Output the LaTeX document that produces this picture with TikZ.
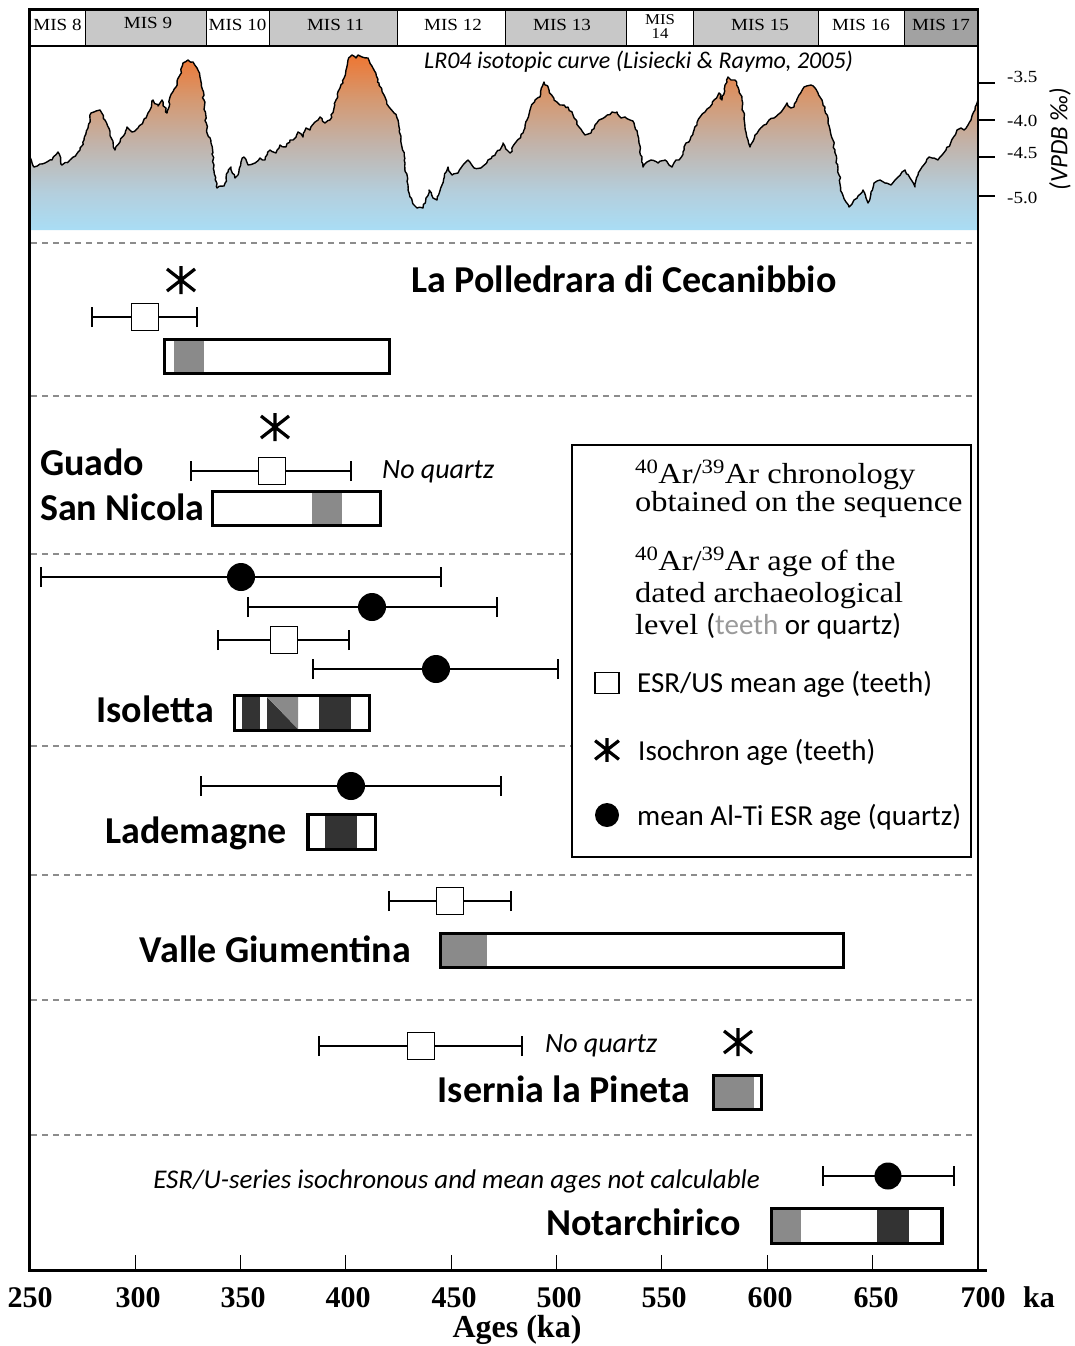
\documentclass[tikz,border=0pt]{standalone}
\usepackage{fontspec}
\setsansfont{Carlito}
\newfontfamily\axisfont{Liberation Serif}
\newfontfamily\palfont{Liberation Serif}[FakeStretch=1.12]
\usetikzlibrary{shapes.geometric,decorations.pathmorphing}
\definecolor{midgray}{HTML}{8A8A8A}
\definecolor{darkfill}{HTML}{333333}
\definecolor{misgray}{HTML}{C8C8C8}
\definecolor{misdark}{HTML}{A2A2A2}
\definecolor{sepgray}{HTML}{8C8C8C}
\definecolor{teethgray}{HTML}{9A9A9A}
\definecolor{lblue}{HTML}{A9DDF5}
\definecolor{bluegray}{HTML}{B4CEDC}
\definecolor{tanmid}{HTML}{C2B2A8}
\definecolor{tanor}{HTML}{D6976E}
\definecolor{orng}{HTML}{EE7632}
\pgfdeclareverticalshading{lrfour}{100bp}{color(0bp)=(lblue); color(25bp)=(lblue); color(36bp)=(bluegray); color(50bp)=(tanmid); color(63bp)=(tanor); color(75bp)=(orng); color(100bp)=(orng)}
\newcommand\sitefont{\fontsize{38}{40}\selectfont\bfseries\sffamily}
\newcommand\lrpts{(30,157) -- (34,167) -- (40,164) -- (45,163) -- (52,160) -- (58,152) -- (62,165) -- (70,160) -- (76,155) -- (80,150) -- (84,140) -- (88,128) -- (91,113) -- (96,111) -- (100,110) -- (105,120) -- (110,133) -- (115,150) -- (120,142) -- (127,127) -- (132,132) -- (138,128) -- (143,122) -- (148,113) -- (153,100) -- (158,106) -- (162,100) -- (167,113) -- (170,97) -- (176,87) -- (180,75) -- (183,63) -- (188,60) -- (193,62) -- (197,68) -- (200,77) -- (204,100) -- (207,133) -- (211,143) -- (214,165) -- (217,188) -- (224,186) -- (228,172) -- (231,167) -- (235,178) -- (238,175) -- (241,162) -- (244,157) -- (248,165) -- (255,163) -- (260,158) -- (265,160) -- (270,150) -- (276,153) -- (280,145) -- (286,147) -- (290,140) -- (293,140) -- (298,132) -- (303,137) -- (306,128) -- (310,130) -- (315,122) -- (320,117) -- (325,123) -- (330,120) -- (336,100) -- (340,88) -- (343,83) -- (346,70) -- (348,60) -- (352,55) -- (356,58) -- (358,55) -- (362,57) -- (368,58) -- (374,70) -- (379,83) -- (384,95) -- (389,107) -- (394,113) -- (398,120) -- (401,137) -- (405,163) -- (408,185) -- (410,197) -- (414,205) -- (417,208) -- (423,208) -- (426,198) -- (429,190) -- (433,198) -- (437,200) -- (442,185) -- (448,167) -- (452,175) -- (458,173) -- (463,165) -- (468,160) -- (474,168) -- (482,167) -- (488,160) -- (496,153) -- (500,150) -- (503,143) -- (507,150) -- (510,153) -- (516,142) -- (523,133) -- (527,120) -- (530,110) -- (535,100) -- (540,97) -- (544,82) -- (549,90) -- (554,100) -- (560,105) -- (568,107) -- (573,115) -- (579,127) -- (585,135) -- (591,133) -- (595,125) -- (599,120) -- (605,117) -- (612,112) -- (617,112) -- (621,118) -- (625,117) -- (630,120) -- (634,123) -- (639,143) -- (643,167) -- (647,162) -- (651,160) -- (658,163) -- (665,160) -- (669,165) -- (672,167) -- (676,160) -- (679,160) -- (683,152) -- (686,143) -- (690,140) -- (693,133) -- (697,125) -- (700,117) -- (705,112) -- (710,107) -- (714,100) -- (719,93) -- (722,100) -- (725,85) -- (728,77) -- (731,80) -- (735,80) -- (739,90) -- (742,100) -- (745,127) -- (748,140) -- (750,147) -- (755,135) -- (759,130) -- (764,125) -- (769,120) -- (774,118) -- (780,113) -- (784,108) -- (787,103) -- (791,108) -- (794,107) -- (799,95) -- (804,87) -- (811,85) -- (815,88) -- (818,93) -- (822,100) -- (825,107) -- (828,123) -- (832,138) -- (835,150) -- (839,175) -- (842,193) -- (846,202) -- (849,207) -- (852,204) -- (854,200) -- (858,196) -- (863,190) -- (866,198) -- (868,203) -- (871,192) -- (874,183) -- (877,181) -- (880,180) -- (885,183) -- (891,185) -- (895,180) -- (898,177) -- (902,172) -- (905,170) -- (910,178) -- (915,187) -- (918,175) -- (922,167) -- (926,162) -- (929,157) -- (934,158) -- (938,160) -- (942,155) -- (946,150) -- (951,142) -- (957,130) -- (961,128) -- (964,130) -- (968,125) -- (971,120) -- (975,110) -- (978,100)}
\newcommand\errbar[4]{%
  \coordinate (#1-l) at (#2,#4);
  \coordinate (#1-r) at (#3,#4);
  \draw[errline] (#1-l) -- (#1-r);
  \draw[errline] ([yshift=-10pt]#1-l) -- ([yshift=10pt]#1-l);
  \draw[errline] ([yshift=-10pt]#1-r) -- ([yshift=10pt]#1-r);
}
\begin{document}
\begin{tikzpicture}[x=1pt,y=-1pt,
  errline/.style={line width=1.2pt},
  sqmark/.style={draw, fill=white, line width=1.5pt, minimum width=27pt, minimum height=27pt, inner sep=0pt},
  dotmark/.style={circle, fill=black, minimum size=28pt, inner sep=0pt},
  agebox/.style={draw, line width=3.2pt},
  sepline/.style={draw=sepgray, line width=1.2pt, dash pattern=on 6pt off 5pt},
  sitename/.style={font=\sitefont, inner sep=0pt},
  noteit/.style={font=\fontsize{28}{30}\selectfont\itshape\sffamily, inner sep=0pt},
  legserif/.style={font=\fontsize{29}{30}\selectfont\palfont, inner sep=0pt, anchor=base west},
  legsans/.style={font=\fontsize{29}{31}\selectfont\sffamily, inner sep=0pt, anchor=base west},
  mislabel/.style={font=\fontsize{17}{18}\selectfont\palfont, inner sep=0pt, anchor=base},
  axnum/.style={font=\fontsize{30}{32}\selectfont\axisfont\bfseries, inner sep=0pt, anchor=base},
  ylab/.style={font=\fontsize{17}{20}\selectfont\palfont, inner sep=0pt, anchor=west},
  jitter/.style={decoration={random steps, segment length=3pt, amplitude=1.1pt}},
  ast/.pic={\draw[line width=3.2pt] (0,-14) -- (0,14) (-14,-11) -- (14,11) (-14,11) -- (14,-11);}
]
\useasboundingbox (0,0) rectangle (1074,1346);
\fill[white] (0,0) rectangle (1074,1346);

% isotopic curve
\begin{scope}
\pgfmathsetseed{11}
\clip decorate[jitter]{\lrpts} -- (978,230) -- (30,230) -- cycle;
\shade[shading=lrfour] (30,55) rectangle (978,230);
\end{scope}
\pgfmathsetseed{11}
\draw[line width=1.4pt, line join=round] decorate[jitter]{\lrpts};
\node[font=\fontsize{24}{26}\selectfont\itshape\sffamily, inner sep=0pt, anchor=base west] (lr04) at (424,68) {LR04 isotopic curve (Lisiecki \& Raymo, 2005)};

% MIS band
\fill[misgray] (85.5,10) rectangle (206,46);
\fill[misgray] (269,10) rectangle (397.5,46);
\fill[misgray] (505,10) rectangle (626.5,46);
\fill[misgray] (693,10) rectangle (818.5,46);
\fill[misdark] (904,10) rectangle (978,46);
\foreach \bx in {85.5,206,269,397.5,505,626.5,693,818.5,904}{\draw[line width=1pt] (\bx,10) -- (\bx,46);}
\draw[line width=1.5pt] (29.5,46) -- (978,46);
\node[mislabel] (mis8) at (57.5,31) {MIS 8};
\node[mislabel] (mis9) at (148,29) {MIS 9};
\node[mislabel] (mis10) at (237.5,31) {MIS 10};
\node[mislabel] (mis11) at (335.5,31) {MIS 11};
\node[mislabel] (mis12) at (453,31) {MIS 12};
\node[mislabel] (mis13) at (562,31) {MIS 13};
\node[font=\fontsize{15}{15}\selectfont\palfont, inner sep=0pt, anchor=base] (mis14a) at (660,25) {MIS};
\node[font=\fontsize{15}{15}\selectfont\palfont, inner sep=0pt, anchor=base] (mis14b) at (660,38) {14};
\node[mislabel] (mis15) at (760,31) {MIS 15};
\node[mislabel] (mis16) at (861,31) {MIS 16};
\node[mislabel] (mis17) at (941,31) {MIS 17};

% separators
\foreach \sy in {243,396,554,746,875,1000,1135}{\draw[sepline] (31,\sy) -- (977,\sy);}

% La Polledrara
\pic at (181,280) {ast};
\errbar{lp}{92}{197}{317}
\node[sqmark] (lp-sq) at (145,317) {};
\fill[midgray] (174,340) rectangle (204,373);
\draw[agebox] (164.5,339.5) rectangle (389.5,373.5);
\node[sitename, anchor=base west] (lp) at (411,292) {La Polledrara di Cecanibbio};

% Guado San Nicola
\pic at (275,427) {ast};
\errbar{gsn}{191}{351}{471}
\node[sqmark] (gsn-sq) at (272,471) {};
\node[noteit, anchor=base west] (nq1) at (382,478) {No quartz};
\fill[midgray] (312,493) rectangle (342,524);
\draw[agebox] (212.5,491.5) rectangle (380.5,525.5);
\node[sitename, anchor=base west] (guado) at (40,475) {Guado};
\node[sitename, anchor=base west] (sannicola) at (40,520) {San Nicola};

% Isoletta
\errbar{is1}{41}{441}{577}
\node[dotmark] (is1-c) at (241,577) {};
\errbar{is2}{248}{497}{607}
\node[dotmark] (is2-c) at (372,607) {};
\errbar{is3}{218}{349}{640}
\node[sqmark] (is3-sq) at (284,640) {};
\errbar{is4}{313}{558}{669}
\node[dotmark] (is4-c) at (436,669) {};
\fill[darkfill] (242,697) rectangle (260,729);
\fill[darkfill] (267,697) -- (267,729) -- (298,729) -- cycle;
\fill[midgray] (267,697) -- (298,697) -- (298,729) -- cycle;
\fill[darkfill] (318.5,697) rectangle (351,729);
\draw[agebox] (234.5,695.5) rectangle (369.5,730.5);
\node[sitename, anchor=base east] (isoletta) at (214,722) {Isoletta};

% Lademagne
\errbar{lad}{201}{501}{786}
\node[dotmark] (lad-c) at (351,786) {};
\fill[darkfill] (325,816) rectangle (357,848);
\draw[agebox] (308,814.5) rectangle (375.5,849.5);
\node[sitename, anchor=base east] (lademagne) at (287,843) {Lademagne};

% Valle Giumentina
\errbar{vg}{389}{511}{901}
\node[sqmark] (vg-sq) at (450,901) {};
\fill[midgray] (442,935) rectangle (487,966);
\draw[agebox] (440.5,933.5) rectangle (843.5,967.5);
\node[sitename, anchor=base east] (valle) at (411,962) {Valle Giumentina};

% Isernia la Pineta
\errbar{ise}{319}{522}{1046}
\node[sqmark] (ise-sq) at (421,1046) {};
\node[noteit, anchor=base west] (nq2) at (545,1052) {No quartz};
\pic at (738,1042) {ast};
\fill[midgray] (715,1077) rectangle (754,1108);
\draw[agebox] (713.5,1075.5) rectangle (761.5,1109.5);
\node[sitename, anchor=base east] (isernia) at (690,1102) {Isernia la Pineta};

% Notarchirico
\node[font=\fontsize{27}{29}\selectfont\itshape\sffamily, inner sep=0pt, anchor=base east] (esrnote) at (760,1188) {ESR/U-series isochronous and mean ages not calculable};
\errbar{not}{823}{954}{1176}
\node[dotmark, minimum size=27pt] (not-c) at (888,1176) {};
\fill[midgray] (773,1210) rectangle (801,1242);
\fill[darkfill] (877,1210) rectangle (909,1242);
\draw[agebox] (771.5,1208.5) rectangle (942,1243.5);
\node[sitename, anchor=base east] (notarchirico) at (741,1235) {Notarchirico};

% legend
\draw[line width=1.4pt, fill=white] (572,445) rectangle (971,857);
\node[legserif] (lg1a) at (635,483) {\textsuperscript{40}Ar/\textsuperscript{39}Ar chronology};
\node[legserif] (lg1b) at (635,511) {obtained on the sequence};
\node[legserif] (lg2a) at (635,570) {\textsuperscript{40}Ar/\textsuperscript{39}Ar age of the};
\node[legserif] (lg2b) at (635,602) {dated archaeological};
\node[legserif] (lg2c) at (635,634) {level {\sffamily(\textcolor{teethgray}{teeth} or quartz)}};
\node[sqmark, minimum width=24pt, minimum height=21pt] (lg-sq) at (607,683) {};
\node[legsans] (lg3) at (637,692) {ESR/US mean age (teeth)};
\pic[scale=0.85] at (607,750) {ast};
\node[legsans] (lg4) at (638,760) {Isochron age (teeth)};
\node[dotmark, minimum size=24pt] (lg-c) at (607,815) {};
\node[legsans] (lg5) at (637,825) {mean Al-Ti ESR age (quartz)};

% frame
\draw[line width=3pt] (29.5,8.5) -- (29.5,1270) -- (987,1270);
\draw[line width=3pt] (28,10) -- (979,10);
\draw[line width=2.5pt] (978,10) -- (978,1270);

% right axis
\foreach \ty in {83,120,157,196}{\draw[line width=2pt] (979,\ty) -- (995,\ty);}
\node[ylab] (y35) at (1007,77) {-3.5};
\node[ylab] (y40) at (1007,121) {-4.0};
\node[ylab] (y45) at (1007,153) {-4.5};
\node[ylab] (y50) at (1007,198) {-5.0};
\node[font=\fontsize{25}{27}\selectfont\itshape\sffamily, inner sep=0pt, rotate=90] (vpdb) at (1060,139) {(VPDB ‰)};

% bottom axis
\foreach \tx in {135,240,345.5,451,556,661.5,767,872}{\draw[line width=1pt] (\tx,1255) -- (\tx,1270);}
\node[axnum] (a250) at (30,1307) {250};
\node[axnum] (a300) at (138,1307) {300};
\node[axnum] (a350) at (243,1307) {350};
\node[axnum] (a400) at (348,1307) {400};
\node[axnum] (a450) at (454,1307) {450};
\node[axnum] (a500) at (559,1307) {500};
\node[axnum] (a550) at (664,1307) {550};
\node[axnum] (a600) at (770,1307) {600};
\node[axnum] (a650) at (876,1307) {650};
\node[axnum] (a700) at (983,1307) {700};
\node[axnum] (aka) at (1039,1307) {ka};
\node[font=\fontsize{32}{34}\selectfont\axisfont\bfseries, inner sep=0pt, anchor=base] (ages) at (517,1337) {Ages (ka)};
\end{tikzpicture}
\end{document}
